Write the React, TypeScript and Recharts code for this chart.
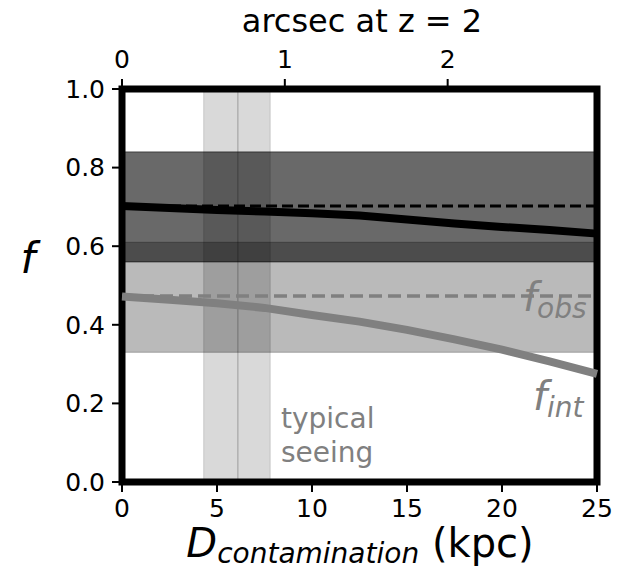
import { LineChart, Line, XAxis, YAxis, ReferenceArea } from 'recharts'

// distance grid (kpc) and the four curves
const kpc = [0, 2.5, 5, 7.5, 10, 12.5, 15, 17.5, 20, 22.5, 25]
const fIntDark = [0.702, 0.697, 0.692, 0.688, 0.684, 0.678, 0.668, 0.658, 0.649, 0.641, 0.632]
const fObsDark = [0.702, 0.702, 0.702, 0.702, 0.702, 0.702, 0.702, 0.702, 0.702, 0.702, 0.702]
const fIntGrey = [0.472, 0.464, 0.455, 0.443, 0.425, 0.408, 0.387, 0.363, 0.337, 0.307, 0.275]
const fObsGrey = [0.473, 0.473, 0.473, 0.473, 0.473, 0.473, 0.473, 0.473, 0.473, 0.473, 0.473]

// uncertainty bands on f, and the seeing range in kpc
const darkBand = [0.56, 0.84]
const lightBand = [0.33, 0.61]
const seeingBands = [
  [4.3, 6.1],
  [6.1, 7.8],
]

const xTicks = [0, 5, 10, 15, 20, 25]
const yTicks = [0, 0.2, 0.4, 0.6, 0.8, 1.0]
const arcsecTicks = [0, 1, 2]
const kpcPerArcsec = 8.57

const data = kpc.map((d, i) => ({
  d,
  fIntDark: fIntDark[i],
  fObsDark: fObsDark[i],
  fIntGrey: fIntGrey[i],
  fObsGrey: fObsGrey[i],
}))

const FONT = '"DejaVu Sans", sans-serif'
const GREY = '#808080'

const tickLine = { stroke: '#000', strokeWidth: 2 }
const tickText = { fontSize: 25, fill: '#000', fontFamily: FONT }

export default function App() {
  return (
    <div style={{ position: 'relative', width: 628, height: 570, background: '#fff' }}>
      <style>{'body{margin:0}'}</style>
      <LineChart width={628} height={570} data={data} margin={{ top: 0, right: 31, bottom: 0, left: 0 }}>
        {/* bands first so the curves sit on top */}
        <ReferenceArea
          y1={darkBand[0]}
          y2={darkBand[1]}
          x1={0}
          x2={25}
          fill="#000"
          fillOpacity={0.59}
          stroke="#000"
          strokeOpacity={0.59}
          strokeWidth={1}
        />
        <ReferenceArea
          y1={lightBand[0]}
          y2={lightBand[1]}
          x1={0}
          x2={25}
          fill="#000"
          fillOpacity={0.27}
          stroke="#000"
          strokeOpacity={0.27}
          strokeWidth={1}
        />
        {seeingBands.map(([a, b]) => (
          <ReferenceArea
            key={a}
            x1={a}
            x2={b}
            y1={0}
            y2={1}
            fill="#000"
            fillOpacity={0.15}
            stroke="#000"
            strokeOpacity={0.15}
            strokeWidth={1}
          />
        ))}

        <XAxis
          dataKey="d"
          type="number"
          domain={[0, 25]}
          ticks={xTicks}
          interval={0}
          height={88}
          tickSize={10}
          tickMargin={7}
          tick={tickText}
          tickLine={tickLine}
          axisLine={false}
        />
        <XAxis
          xAxisId="top"
          dataKey="d"
          orientation="top"
          type="number"
          domain={[0, 25]}
          ticks={arcsecTicks.map((a) => a * kpcPerArcsec)}
          tickFormatter={(v: number) => String(Math.round(v / kpcPerArcsec))}
          interval={0}
          height={89}
          tickSize={10}
          tickMargin={11}
          tick={tickText}
          tickLine={tickLine}
          axisLine={false}
        />
        <YAxis
          type="number"
          domain={[0, 1]}
          ticks={yTicks}
          tickFormatter={(v: number) => v.toFixed(1)}
          interval={0}
          width={122}
          tickSize={10}
          tickMargin={7}
          tick={tickText}
          tickLine={tickLine}
          axisLine={false}
        />

        <Line
          dataKey="fObsDark"
          stroke="#000"
          strokeWidth={3}
          strokeDasharray="11 5"
          dot={false}
          activeDot={false}
          isAnimationActive={false}
        />
        <Line
          dataKey="fObsGrey"
          stroke={GREY}
          strokeWidth={3.5}
          strokeDasharray="13 6"
          dot={false}
          activeDot={false}
          isAnimationActive={false}
        />
        <Line dataKey="fIntDark" stroke="#000" strokeWidth={8} dot={false} activeDot={false} isAnimationActive={false} />
        <Line dataKey="fIntGrey" stroke={GREY} strokeWidth={8} dot={false} activeDot={false} isAnimationActive={false} />

        {/* thick frame round the plot */}
        <ReferenceArea x1={0} x2={25} y1={0} y2={1} fill="none" stroke="#000" strokeWidth={7} ifOverflow="visible" />
      </LineChart>

      <svg
        width={628}
        height={570}
        style={{ position: 'absolute', left: 0, top: 0, pointerEvents: 'none' }}
        fontFamily={FONT}
      >
        <text x={362} y={32} fontSize={32} textAnchor="middle" fill="#000">
          arcsec at z = 2
        </text>
        <text x={28} y={273} fontSize={42} fontStyle="italic" textAnchor="middle" fill="#000">
          f
        </text>
        <text x={360} y={557} fontSize={40} textAnchor="middle" fill="#000">
          <tspan fontStyle="italic">D</tspan>
          <tspan fontStyle="italic" fontSize={28} dy={6}>
            contamination
          </tspan>
          <tspan dy={-6}> (kpc)</tspan>
        </text>
        <text x={281} y={428} fontSize={28} fill={GREY}>
          typical
        </text>
        <text x={281} y={462} fontSize={28} fill={GREY}>
          seeing
        </text>
        <text x={523} y={311} fontSize={40} fill={GREY} fontStyle="italic">
          f
          <tspan fontSize={28} dy={7}>
            obs
          </tspan>
        </text>
        <text x={533} y={410} fontSize={40} fill={GREY} fontStyle="italic">
          f
          <tspan fontSize={28} dy={7}>
            int
          </tspan>
        </text>
      </svg>
    </div>
  )
}
